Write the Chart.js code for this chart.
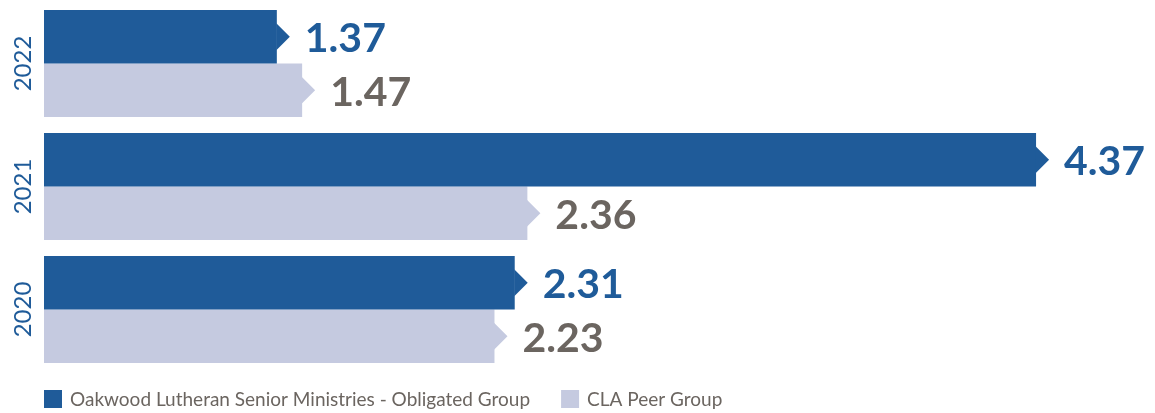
<!DOCTYPE html>
<html>
<head>
<meta charset="utf-8">
<script src="https://cdn.jsdelivr.net/npm/chart.js@4/dist/chart.umd.min.js"></script>
<style>
  html, body { margin: 0; padding: 0; background: #ffffff; }
  #wrap { width: 1155px; height: 413px; }
</style>
</head>
<body>
<div id="wrap">
  <canvas id="ratioChart" width="1155" height="413"></canvas>
</div>

<script>
  const years = ['2022', '2021', '2020'];
  const seriesNames = ['Oakwood Lutheran Senior Ministries - Obligated Group', 'CLA Peer Group'];
  const oakwood = [1.37, 4.37, 2.31];
  const peerGroup = [1.47, 2.36, 2.23];

  const xMin = 0.45;
  const xMax = 4.84;

  const darkBlue = '#1f5b99';
  const lavender = '#c5cae0';
  const grayText = '#6b6560';

  // draws arrow tips, value labels, rotated year labels and the legend
  const decorPlugin = {
    id: 'decor',
    afterDatasetsDraw(chart) {
      const ctx = chart.ctx;
      const area = chart.chartArea;
      const yScale = chart.scales.y;
      const textColors = [darkBlue, grayText];

      ctx.save();
      chart.data.datasets.forEach((ds, di) => {
        const meta = chart.getDatasetMeta(di);
        meta.data.forEach((bar, i) => {
          const tipW = 13, tipH = 27;
          ctx.fillStyle = ds.backgroundColor;
          ctx.beginPath();
          ctx.moveTo(bar.x - 0.5, bar.y - tipH / 2);
          ctx.lineTo(bar.x + tipW, bar.y);
          ctx.lineTo(bar.x - 0.5, bar.y + tipH / 2);
          ctx.closePath();
          ctx.fill();

          ctx.fillStyle = textColors[di];
          ctx.font = 'bold 41px Lato';
          ctx.textAlign = 'left';
          ctx.textBaseline = 'alphabetic';
          ctx.fillText(ds.data[i].toFixed(2), bar.x + tipW + 15, bar.y + 15.5);
        });
      });

      // year labels, reading bottom to top
      years.forEach((yr, i) => {
        const cy = yScale.getPixelForValue(i);
        ctx.save();
        ctx.translate(31, cy);
        ctx.rotate(-Math.PI / 2);
        ctx.fillStyle = darkBlue;
        ctx.font = '24px Lato';
        ctx.textAlign = 'center';
        ctx.textBaseline = 'alphabetic';
        ctx.fillText(yr, 0, 0);
        ctx.restore();
      });

      // legend
      let lx = area.left;
      const ly = 399;
      ctx.font = '19px Lato';
      ctx.textBaseline = 'middle';
      chart.data.datasets.forEach((ds) => {
        ctx.fillStyle = ds.backgroundColor;
        ctx.fillRect(lx, ly - 9, 18, 18);
        ctx.fillStyle = grayText;
        ctx.fillText(ds.label, lx + 26, ly + 1);
        lx += 26 + ctx.measureText(ds.label).width + 31;
      });
      ctx.restore();
    }
  };

  const ctx = document.getElementById('ratioChart').getContext('2d');
  new Chart(ctx, {
    type: 'bar',
    data: {
      labels: years,
      datasets: [
        {
          label: seriesNames[0],
          data: oakwood,
          backgroundColor: darkBlue,
          base: xMin
        },
        {
          label: seriesNames[1],
          data: peerGroup,
          backgroundColor: lavender,
          base: xMin
        }
      ]
    },
    options: {
      indexAxis: 'y',
      responsive: false,
      animation: false,
      layout: { padding: { left: 44, right: 0, top: 2, bottom: 42 } },
      datasets: {
        bar: { categoryPercentage: 0.87, barPercentage: 1.0 }
      },
      scales: {
        x: { min: xMin, max: xMax, display: false },
        y: { display: false }
      },
      plugins: {
        legend: { display: false },
        tooltip: { enabled: false }
      }
    },
    plugins: [decorPlugin]
  });
</script>
</body>
</html>
